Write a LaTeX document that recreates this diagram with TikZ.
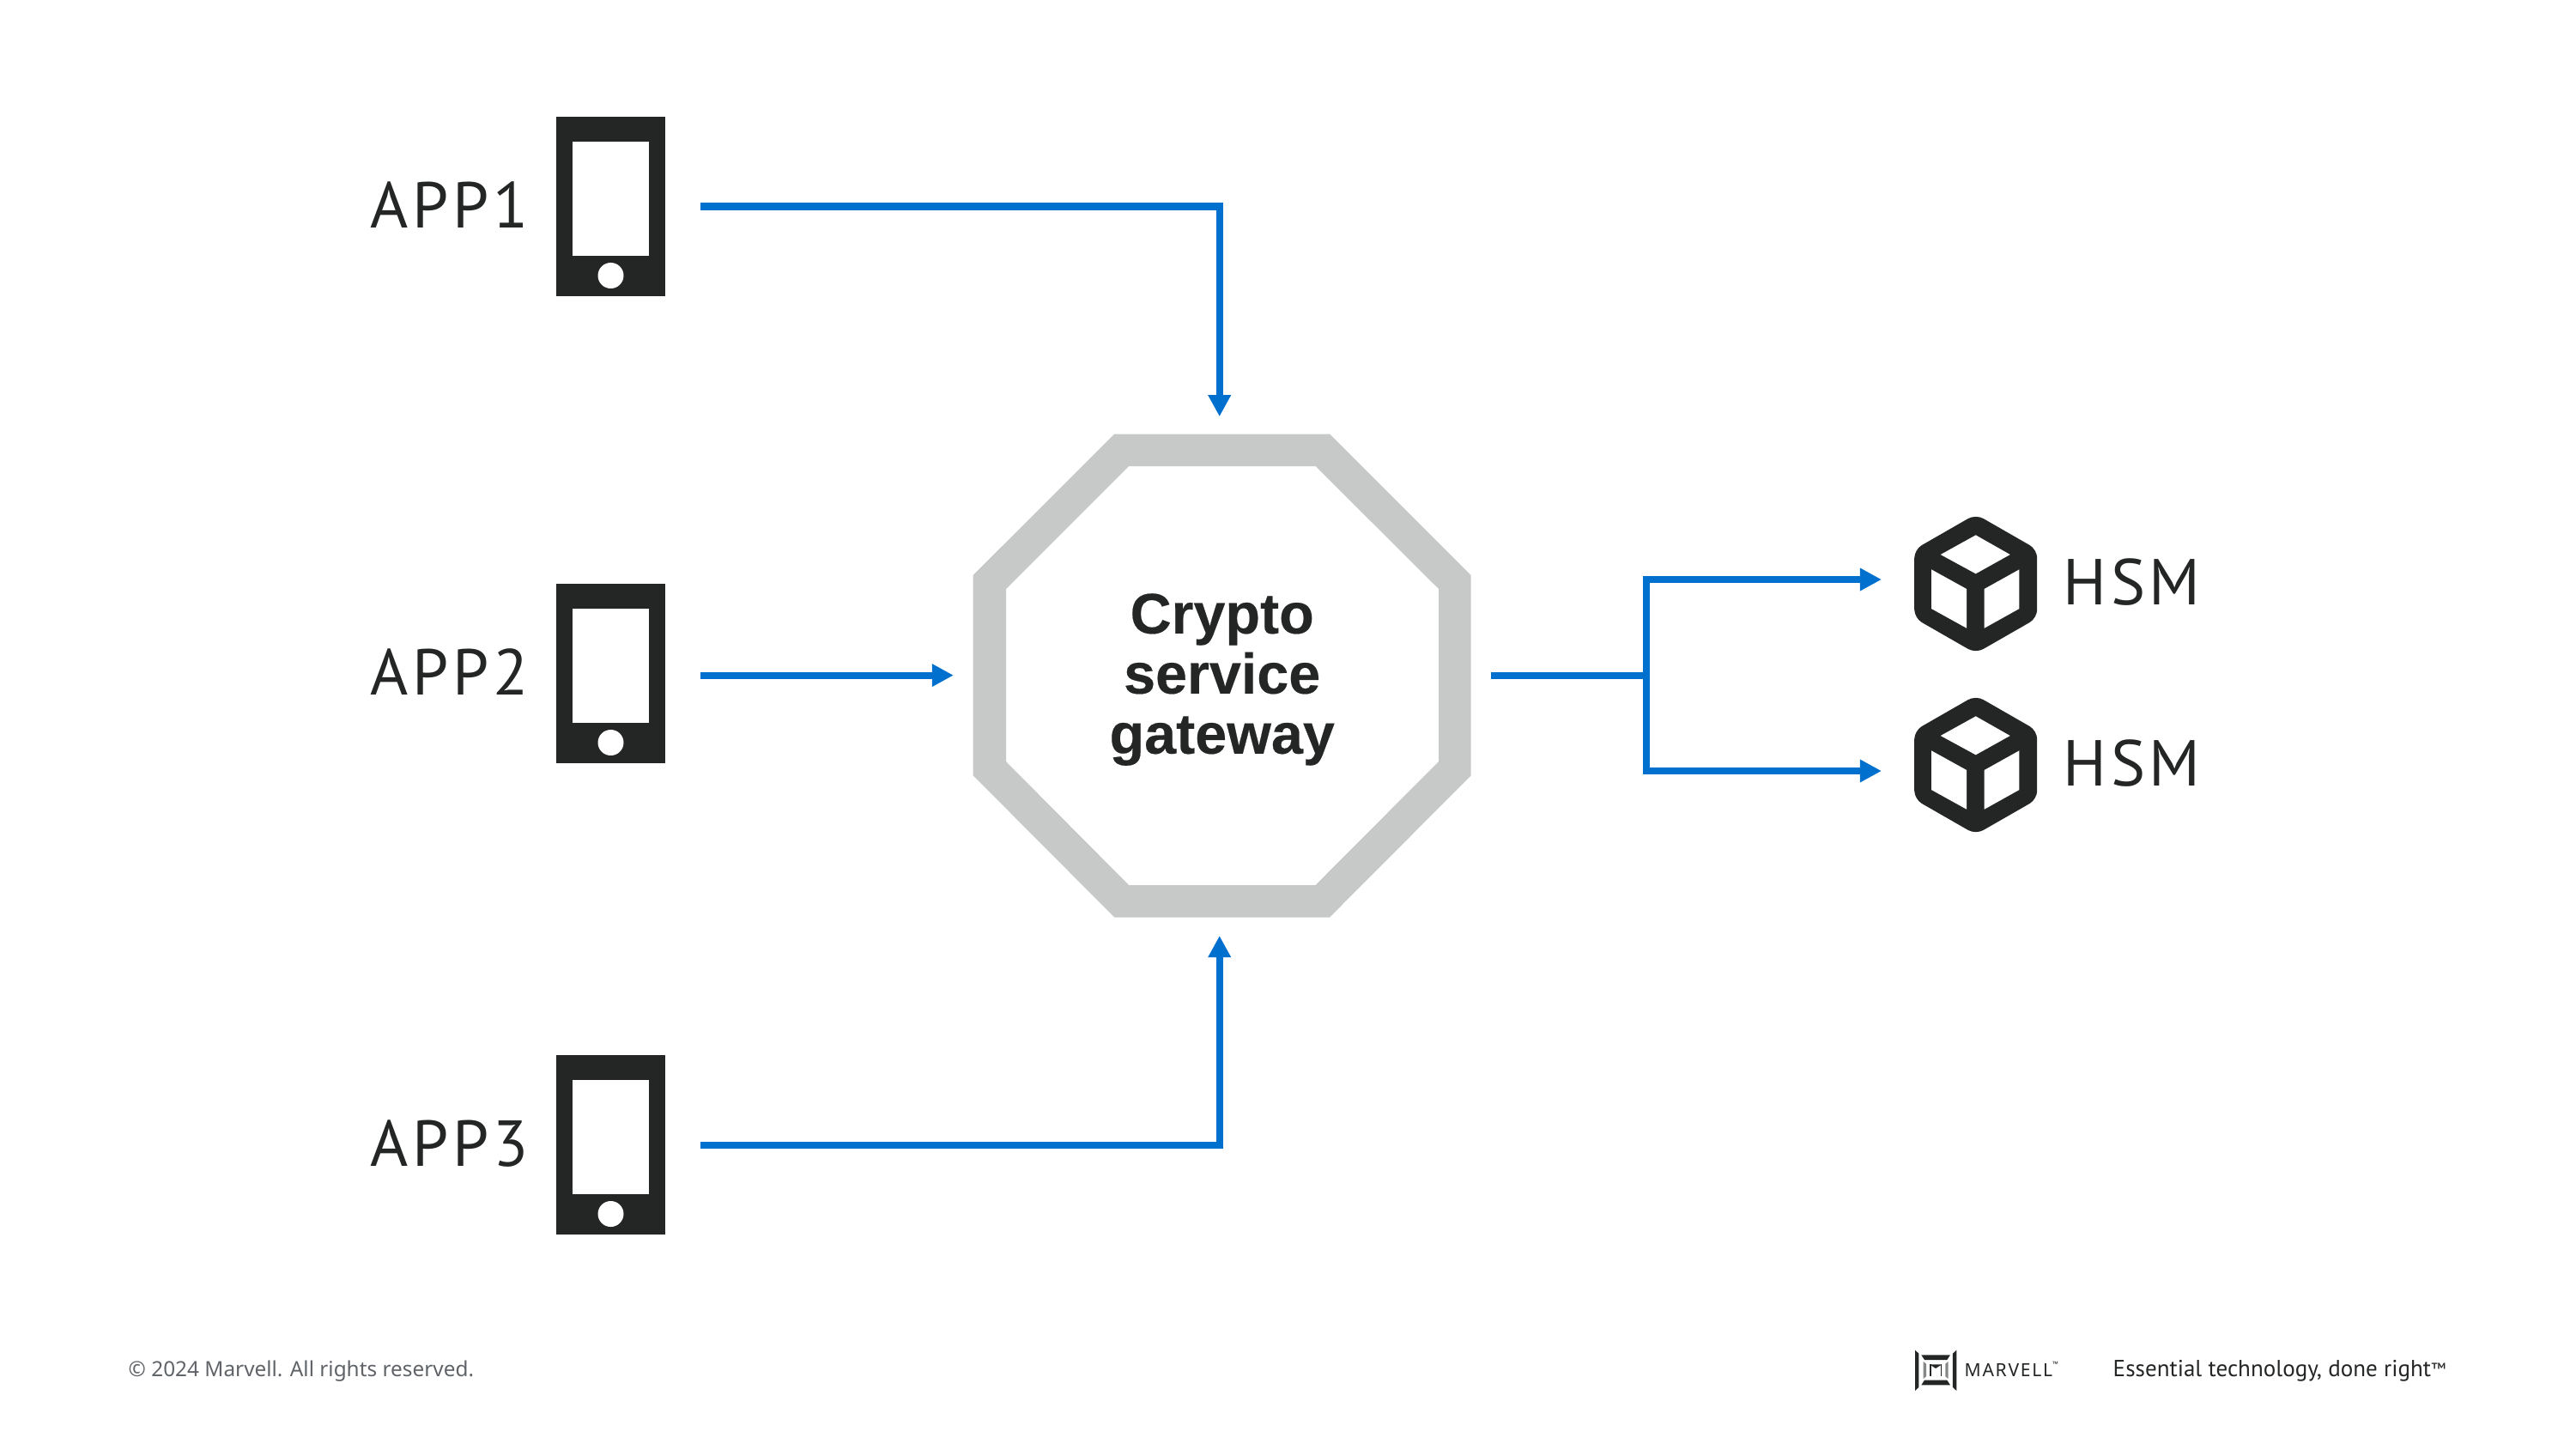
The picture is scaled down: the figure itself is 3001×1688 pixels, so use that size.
\documentclass[tikz,border=0pt]{standalone}
\usepackage{fontspec}
\setmainfont{PT Sans}
\newfontfamily\labelfont[LetterSpace=6]{PT Sans}
\newfontfamily\gatewayfont[BoldFeatures={FakeBold=0.3}]{Liberation Sans}
\newfontfamily\footerfont{Noto Sans}
\newfontfamily\logofont[LetterSpace=8]{Noto Sans}
\usetikzlibrary{arrows.meta,positioning}
\definecolor{icondark}{RGB}{35,38,37}
\definecolor{ringgray}{RGB}{199,201,200}
\definecolor{flowblue}{RGB}{0,112,207}
\definecolor{footergray}{RGB}{95,99,104}
\tikzset{
  flow line/.style={line width=.08cm,draw=flowblue},
  flow arrow/.style={flow line,-{Triangle[length=.25cm,width=.25cm]}},
  phone body/.style={rectangle,fill=icondark,minimum width=1.27cm,minimum height=2.08cm,inner sep=0pt},
  cube box/.style={rectangle,minimum width=1.43cm,minimum height=1.6cm,inner sep=0pt},
  app label/.style={font=\labelfont\fontsize{21.5pt}{24pt}\selectfont,text=icondark,inner sep=0pt,anchor=base east},
  hsm label/.style={font=\labelfont\fontsize{21.5pt}{24pt}\selectfont,text=icondark,inner sep=0pt,anchor=base west},
  gateway box/.style={rectangle,minimum width=5.8cm,minimum height=5.63cm,inner sep=0pt},
  gateway text/.style={inner sep=0pt,align=center,
    font=\gatewayfont\bfseries\fontsize{18.9pt}{19.9pt}\selectfont,text=icondark},
  footer note/.style={inner sep=0pt,anchor=base west,text=footergray,font=\footerfont\fontsize{6.93pt}{8pt}\selectfont},
  tag note/.style={inner sep=0pt,anchor=base west,text=icondark,font=\fontsize{7.7pt}{9pt}\selectfont},
  brand note/.style={inner sep=0pt,anchor=base west,text=icondark,font=\logofont\fontsize{6pt}{8pt}\selectfont},
  phone face/.pic={
    \fill[white] (-44.2,-75.5) rectangle (44.2,57.2);
    \fill[white] (0,80.5) circle (.15cm);
  },
  cube icon/.pic={
    \fill[icondark,rounded corners=.1cm] (0,-81)--(71.5,-40)--(71.5,40)--(0,81)--(-71.5,40)--(-71.5,-40)--cycle;
    \fill[white] (0,-56.7)--(40,-34)--(0,-11.7)--(-41,-34)--cycle;
    \fill[white] (-51.7,-16.7)--(-10.7,6)--(-10.7,51.7)--(-51.7,29)--cycle;
    \fill[white] (10,6)--(50.7,-16.7)--(50.7,29)--(10,51.7)--cycle;
  }
}

\begin{document}
\begin{tikzpicture}[x=.01cm,y=-.01cm]
  \useasboundingbox (0,0) rectangle (3001,1688);

  % gateway ring
  \fill[ringgray,even odd rule]
    (1298.3,505.5)--(1549,505.5)--(1713.7,670)--(1713.7,903.3)--(1549,1068.5)--(1298.3,1068.5)--(1133.7,903.3)--(1133.7,670)--cycle
    (1315,543)--(1532.5,543)--(1676,686)--(1676,887)--(1532.5,1031)--(1315,1031)--(1172,887)--(1172,686)--cycle;
  \node[gateway box] (gateway) at (1423.7,786.6) {};
  \node[gateway text] (gatewaytext) at ([yshift=-.05cm]gateway.center) {Crypto\\service\\gateway};

  % apps
  \node[phone body] (phone1) at (711.5,240.5) {};
  \pic at (phone1) {phone face};
  \node[phone body] (phone2) at (711.5,784.5) {};
  \pic at (phone2) {phone face};
  \node[phone body] (phone3) at (711.5,1333.5) {};
  \pic at (phone3) {phone face};
  \node[app label] (app1) at (616,265) {APP1};
  \node[app label] (app2) at (616,809) {APP2};
  \node[app label] (app3) at (616,1358) {APP3};

  % hsm
  \node[cube box] (cube1) at (2301.7,680) {};
  \pic at (cube1) {cube icon};
  \node[cube box] (cube2) at (2301.7,891) {};
  \pic at (cube2) {cube icon};
  \node[hsm label] (hsm1) at (2403,704) {HSM};
  \node[hsm label] (hsm2) at (2403,915) {HSM};

  % flows
  \draw[flow arrow,shorten <=.405cm,shorten >=.19cm] (phone1.east) -| ([xshift=-.03cm]gateway.north);
  \draw[flow arrow,shorten <=.405cm,shorten >=.22cm] (phone2.east |- gateway.west) -- (gateway.west);
  \draw[flow arrow,shorten <=.405cm,shorten >=.21cm] (phone3.east) -| ([xshift=-.03cm]gateway.south);
  \coordinate (split) at (1918,786.6);
  \draw[flow line,shorten <=.225cm] (gateway.east) -- (split);
  \draw[flow arrow,shorten >=.375cm] (split) |- ([yshift=.05cm]cube1.west);
  \draw[flow arrow,shorten >=.375cm] (split) |- ([yshift=-.07cm]cube2.west);

  % footer
  \node[footer note] (rights) at (149,1603) {© 2024 Marvell. All rights reserved.};
  \node[tag note] (tagline) at (2461,1603) {Essential technology, done right\raisebox{.5pt}{\fontsize{5.5pt}{6pt}\selectfont ™}};
  \node[brand note] (brand) at (2288,1603) {MARVELL\raisebox{3pt}{\fontsize{2.5pt}{3pt}\selectfont ™}};
  \begin{scope}[shift={(2220,1570)},x=.00333cm,y=-.00333cm]
    \fill[icondark] (33,8)--(46,20)--(46,138)--(33,150)--cycle;
    \fill[icondark] (178,8)--(165,20)--(165,138)--(178,150)--cycle;
    \fill[icondark] (55,25)--(156,25)--(145,42)--(66,42)--cycle;
    \fill[icondark] (66,113)--(145,113)--(156,130)--(55,130)--cycle;
    \fill[icondark!55] (62,48)--(72,56)--(72,100)--(62,108)--cycle;
    \fill[icondark!55] (149,48)--(139,56)--(139,100)--(149,108)--cycle;
    \fill[icondark] (84,58)--(127,58)--(105,72)--cycle;
    \fill[icondark] (84,58) rectangle (89,98);
    \fill[icondark] (122,58) rectangle (127,98);
  \end{scope}
\end{tikzpicture}
\end{document}
